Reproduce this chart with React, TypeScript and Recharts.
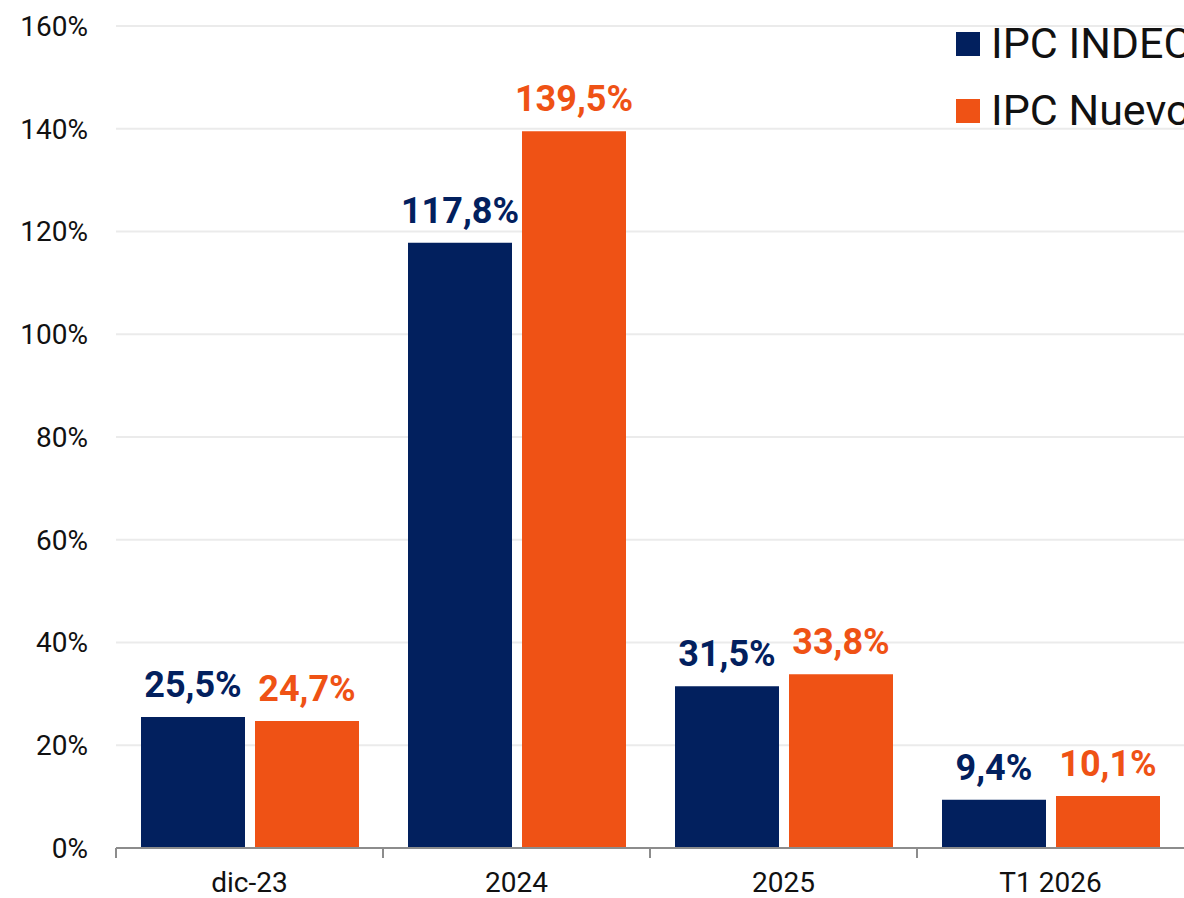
import { Bar, BarChart, CartesianGrid, LabelList, XAxis, YAxis } from "recharts";

const periodos = ["dic-23", "2024", "2025", "T1 2026"];
const ipcIndec = [25.5, 117.8, 31.5, 9.4];
const ipcNuevo = [24.7, 139.5, 33.8, 10.1];
const yTicks = [0, 20, 40, 60, 80, 100, 120, 140, 160];
const series = [
  { key: "indec", name: "IPC INDEC", color: "#02205E" },
  { key: "nuevo", name: "IPC Nuevo", color: "#EF5215" },
];

const data = periodos.map((p, i) => ({ periodo: p, indec: ipcIndec[i], nuevo: ipcNuevo[i] }));

const font = "Roboto, 'Noto Sans', sans-serif";
const fmtPct = (v: number) => `${v.toFixed(1).replace(".", ",")}%`;

function PeriodTick(props: any) {
  const { x, y, payload } = props;
  const half = payload?.offset ?? 133.5;
  return (
    <g>
      <line x1={x - half} x2={x - half} y1={y} y2={y + 10} stroke="#8c8c8c" strokeWidth={2} />
      <text x={x} y={y + 44} textAnchor="middle" fill="#111" fontSize={28} fontFamily={font}>
        {payload.value}
      </text>
    </g>
  );
}

export default function App() {
  return (
    <div
      style={{
        position: "fixed",
        left: 0,
        top: 0,
        width: 1184,
        height: 898,
        overflow: "hidden",
        background: "#fff",
        fontFamily: font,
      }}
    >
      <BarChart
        width={1184}
        height={898}
        data={data}
        margin={{ top: 26, right: 0, left: 0, bottom: 0 }}
        barCategoryGap={25}
        barGap={10}
      >
        <CartesianGrid vertical={false} stroke="#ebebeb" strokeWidth={2} />
        <XAxis
          dataKey="periodo"
          height={50}
          axisLine={{ stroke: "#8c8c8c", strokeWidth: 2 }}
          tickLine={false}
          tickSize={0}
          tickMargin={0}
          tick={<PeriodTick />}
          interval={0}
        />
        <YAxis
          width={116}
          domain={[0, 160]}
          ticks={yTicks}
          tickFormatter={(v: number) => `${v}%`}
          axisLine={false}
          tickLine={false}
          tickSize={0}
          tickMargin={28}
          tick={{ fill: "#111", fontSize: 28, fontFamily: font }}
        />
        {series.map((s) => (
          <Bar key={s.key} dataKey={s.key} name={s.name} fill={s.color} isAnimationActive={false}>
            <LabelList
              dataKey={s.key}
              position="top"
              offset={20}
              formatter={(v: any) => fmtPct(Number(v))}
              fill={s.color}
              fontSize={36}
              fontWeight={700}
              fontFamily={font}
            />
          </Bar>
        ))}
      </BarChart>
      <div style={{ position: "absolute", left: 956, top: 10, whiteSpace: "nowrap" }}>
        {series.map((s) => (
          <div key={s.key} style={{ display: "flex", alignItems: "center", height: 67 }}>
            <span style={{ display: "inline-block", width: 24, height: 24, background: s.color, marginRight: 11 }} />
            <span style={{ fontSize: 43, color: "#111", lineHeight: 1 }}>{s.name}</span>
          </div>
        ))}
      </div>
    </div>
  );
}
